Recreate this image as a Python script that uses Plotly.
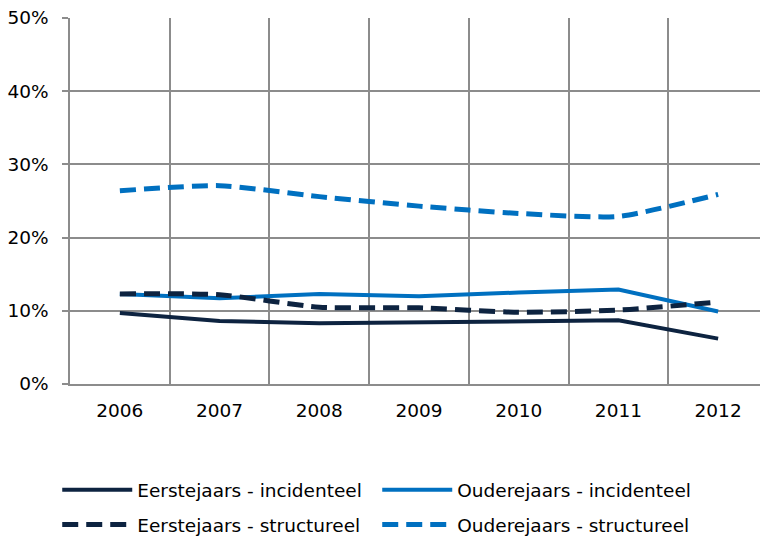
import plotly.graph_objects as go

years = ["2006", "2007", "2008", "2009", "2010", "2011", "2012"]

eerste_incidenteel = [9.7, 8.6, 8.3, 8.4, 8.5, 8.7, 6.2]
oudere_incidenteel = [12.3, 11.7, 12.3, 12.0, 12.5, 12.9, 9.9]
eerste_structureel = [12.3, 12.2, 10.5, 10.4, 9.8, 10.1, 11.2]
oudere_structureel = [26.4, 27.1, 25.6, 24.3, 23.3, 22.9, 25.9]

DARK = "#0d2340"
BLUE = "#0070c0"
GRID = "#8c8c8c"
FONT = "DejaVu Sans"
SIZE = 18.5

fig = go.Figure()

fig.add_trace(go.Scatter(x=years, y=eerste_incidenteel, mode="lines",
                         name="Eerstejaars - incidenteel", legend="legend",
                         line=dict(color=DARK, width=4)))
fig.add_trace(go.Scatter(x=years, y=oudere_incidenteel, mode="lines",
                         name="Ouderejaars - incidenteel", legend="legend",
                         line=dict(color=BLUE, width=4)))
fig.add_trace(go.Scatter(x=years, y=eerste_structureel, mode="lines",
                         name="Eerstejaars - structureel", legend="legend2",
                         line=dict(color=DARK, width=5, dash="16px,8px",
                                   shape="spline", smoothing=0.6)))
fig.add_trace(go.Scatter(x=years, y=oudere_structureel, mode="lines",
                         name="Ouderejaars - structureel", legend="legend2",
                         line=dict(color=BLUE, width=5, dash="16px,8px",
                                   shape="spline", smoothing=0.6)))

fig.update_xaxes(type="category", tickson="boundaries", range=[-0.5, 6.42],
                 showgrid=True, gridcolor=GRID, gridwidth=1.5,
                 showline=True, linecolor=GRID, linewidth=1.5,
                 ticks="", ticklabelstandoff=9,
                 tickfont=dict(family=FONT, size=SIZE, color="#000000"))
fig.update_yaxes(range=[0, 50], dtick=10, ticksuffix="%",
                 showgrid=True, gridcolor=GRID, gridwidth=1.5,
                 showline=True, linecolor=GRID, linewidth=1.5,
                 ticks="outside", ticklen=6, tickcolor=GRID, tickwidth=1.5,
                 ticklabelstandoff=10, zeroline=False,
                 tickfont=dict(family=FONT, size=SIZE, color="#000000"))

legend_common = dict(orientation="h", xanchor="left", yanchor="middle",
                     entrywidth=235, entrywidthmode="pixels", itemwidth=70,
                     font=dict(family=FONT, size=SIZE, color="#000000"),
                     bgcolor="rgba(0,0,0,0)")

fig.update_layout(
    width=760, height=537,
    margin=dict(l=70, r=0, t=18, b=153, autoexpand=False),
    plot_bgcolor="white", paper_bgcolor="white",
    font=dict(family=FONT, size=SIZE, color="#000000"),
    legend=dict(x=-0.0185, y=-0.29, **legend_common),
    legend2=dict(x=-0.0185, y=-0.385, **legend_common),
)

fig.write_html("out.html", config={"displayModeBar": False},
               post_script="document.body.style.margin='0';")
